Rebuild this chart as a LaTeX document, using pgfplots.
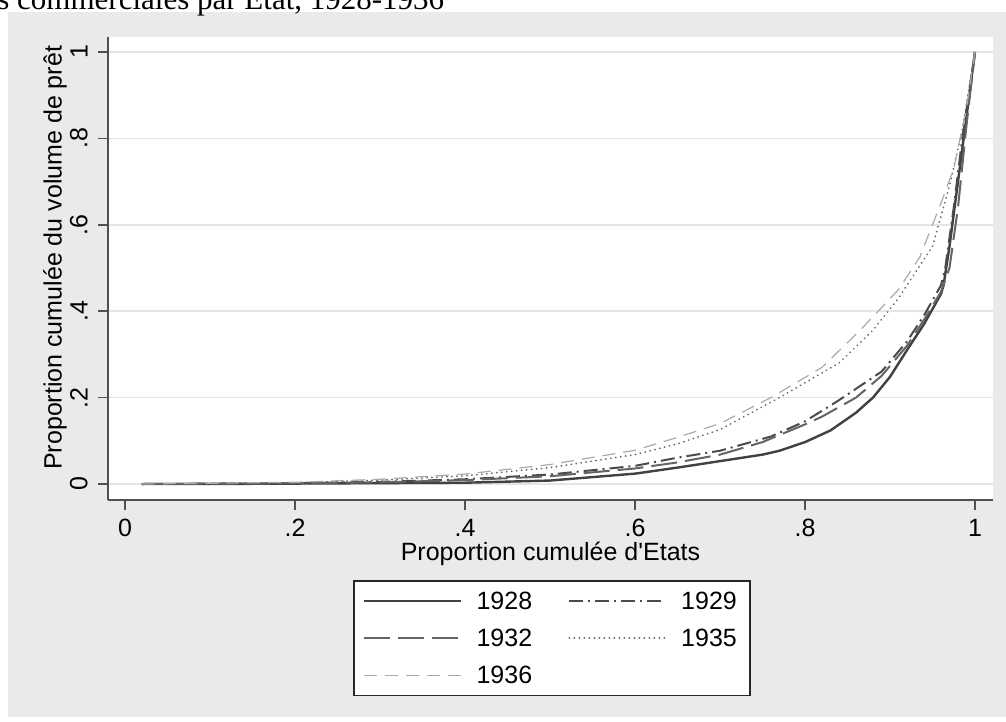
\documentclass[border=0pt]{standalone}
\usepackage{pgfplots}
\pgfplotsset{compat=1.18}
\usepackage{fontspec}
\setmainfont{Liberation Sans}[Ligatures=TeXOff]
\newfontfamily\titlefont{Liberation Serif}
\definecolor{bggray}{RGB}{233,234,236}
\definecolor{gridgray}{RGB}{228,229,231}
\definecolor{axgray}{RGB}{80,80,80}
\definecolor{cA}{RGB}{65,65,65}
\definecolor{cB}{RGB}{75,75,75}
\definecolor{cC}{RGB}{100,100,100}
\definecolor{cD}{RGB}{100,100,100}
\definecolor{cE}{RGB}{170,170,170}
\newcommand{\fs}{\fontsize{12.5}{15}\selectfont}

\pgfplotstableread{
x y
0.02 0
0.1 0
0.2 0.001
0.3 0.002
0.4 0.003
0.5 0.008
0.6 0.024
0.65 0.038
0.7 0.053
0.75 0.068
0.77 0.077
0.8 0.097
0.83 0.124
0.86 0.165
0.88 0.20
0.9 0.248
0.92 0.31
0.94 0.37
0.96 0.44
0.963 0.46
0.97 0.55
0.98 0.70
0.99 0.85
1 1
}\dA

\pgfplotstableread{
x y
0.02 0
0.2 0.002
0.3 0.005
0.4 0.011
0.5 0.022
0.6 0.042
0.65 0.061
0.7 0.077
0.76 0.11
0.8 0.145
0.84 0.194
0.89 0.26
0.92 0.33
0.94 0.39
0.96 0.46
0.965 0.50
0.975 0.64
0.985 0.80
1 1
}\dB

\pgfplotstableread{
x y
0.02 0
0.2 0.002
0.3 0.004
0.4 0.009
0.5 0.018
0.6 0.036
0.65 0.050
0.7 0.068
0.75 0.097
0.8 0.138
0.82 0.156
0.86 0.20
0.89 0.25
0.92 0.32
0.94 0.38
0.96 0.445
0.97 0.50
0.98 0.64
0.99 0.83
1 1
}\dC

\pgfplotstableread{
x y
0.02 0
0.2 0.003
0.3 0.009
0.4 0.019
0.5 0.038
0.6 0.068
0.65 0.093
0.7 0.126
0.77 0.20
0.84 0.28
0.88 0.356
0.91 0.43
0.95 0.55
0.97 0.69
0.985 0.82
1 1
}\dD

\pgfplotstableread{
x y
0.02 0
0.2 0.004
0.3 0.011
0.4 0.023
0.5 0.045
0.6 0.078
0.65 0.108
0.7 0.14
0.76 0.20
0.82 0.27
0.865 0.356
0.91 0.45
0.935 0.525
0.96 0.65
0.975 0.73
0.99 0.87
1 1
}\dE

\begin{document}
\begin{tikzpicture}[x=1pt,y=1pt]
\clip (0,0) rectangle (503,361);
\fill[bggray] (4,2.5) rectangle (503,355);
\node[anchor=base west, inner sep=0pt] at (-1.5,356) {\titlefont\fontsize{15.5}{18}\selectfont s commerciales par Etat, 1928-1936};
\begin{axis}[
  at={(54pt,111pt)}, anchor=south west,
  scale only axis, width=442.5pt, height=231.5pt,
  xmin=-0.02, xmax=1.0212, ymin=-0.037, ymax=1.0347,
  axis background/.style={fill=white},
  axis x line*=bottom, axis y line*=left,
  axis line style={axgray, line width=0.75pt, -},
  every outer x axis line/.append style={-},
  every outer y axis line/.append style={-},
  xtick={0,0.2,0.4,0.6,0.8,1}, xticklabels={0,.2,.4,.6,.8,1},
  ytick={0,0.2,0.4,0.6,0.8,1}, yticklabels={0,.2,.4,.6,.8,1},
  tick align=outside, major tick length=5pt,
  tick style={axgray, line width=0.75pt},
  ymajorgrids, grid style={gridgray, line width=0.75pt},
  tick label style={font=\fs, inner sep=2.5pt},
  yticklabel style={rotate=90, anchor=south},
  yticklabel shift=2.5pt,
  xticklabel shift=2pt,
  label style={font=\fs},
  xlabel={Proportion cumulée d'Etats},
  xlabel style={at={(axis description cs:0.5,-0.1166)}, anchor=center, inner sep=1pt},
  ylabel={Proportion cumulée du volume de prêt},
  ylabel style={at={(axis description cs:-0.0599,0.523)}, anchor=center},
  legend columns=2,
  legend cell align=left,
  legend image code/.code={\draw[#1] (0pt,0pt) -- (48.5pt,0pt);},
  legend style={at={(axis description cs:0.5,-0.1728)}, anchor=north, xshift=0.75pt,
    draw=black!85, line width=0.75pt, fill=white, font=\fs,
    inner xsep=4.5pt, inner ysep=3.8pt, row sep=5.8pt,
    nodes={inner sep=2pt, text depth=0pt},
    /tikz/every odd column/.append style={column sep=5pt},
    /tikz/every even column/.append style={column sep=16pt}},
]
\addplot[cA, line width=1.2pt, line join=round] table {\dA};
\addlegendentry{1928}
\addplot[cB, line width=1pt, dash pattern=on 7pt off 2.5pt on 1pt off 2.5pt] table {\dB};
\addlegendentry{1929}
\addplot[cC, line width=1pt, dash pattern=on 13pt off 4pt] table {\dC};
\addlegendentry{1932}
\addplot[cD, line width=0.9pt, line cap=round, dash pattern=on 0.1pt off 2.4pt] table {\dD};
\addlegendentry{1935}
\addplot[cE, line width=0.6pt, dash pattern=on 6.5pt off 4pt] table {\dE};
\addlegendentry{1936}
\end{axis}
\end{tikzpicture}
\end{document}
